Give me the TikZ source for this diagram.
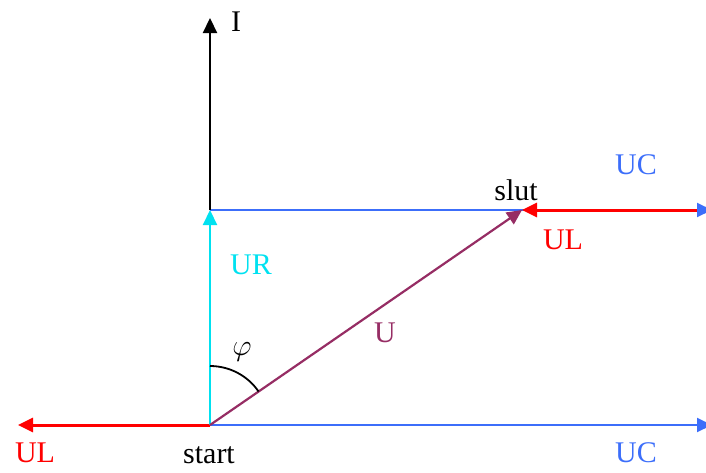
\RequirePackage{fix-cm}
\documentclass[tikz,border=0pt]{standalone}
\usepackage{fontspec}
\setmainfont{Liberation Serif}
\usetikzlibrary{arrows.meta,calc}
\definecolor{vblue}{RGB}{60,110,250}
\definecolor{vcyan}{RGB}{0,225,240}
\definecolor{vred}{RGB}{255,0,0}
\definecolor{vpurple}{RGB}{150,45,100}
\tikzset{
  vec/.style={line width=2.2pt,-{Triangle[length=15pt,width=14pt]}},
  lbl/.style={font=\fontsize{30}{34}\selectfont, inner sep=0pt},
}
\begin{document}
\begin{tikzpicture}[x=1pt,y=-1pt]
\clip (0,0) rectangle (706,472);
\coordinate (start) at (210,425);
\coordinate (slut) at (522,210);
\coordinate (Itop) at (210,18);
\coordinate (URtop) at (210,210);
\coordinate (rtop) at (712,210);
\coordinate (rtopred) at (697,210);
\coordinate (rbot) at (712,425);
\coordinate (lbot) at (18,425);
% blue lines
\draw[vec,vblue,line width=2pt] (URtop) -- (rtop);
\draw[vec,vblue,line width=2pt] (start) -- (rbot);
% red
\draw[vec,vred,line width=3pt] (rtopred) -- (slut);
\draw[vec,vred,line width=3pt] (start) -- (lbot);
% cyan UR
\draw[vec,vcyan] (start) -- (URtop);
% black I
\draw[vec,black] (URtop) -- (Itop);
% U
\draw[vec,vpurple] (start) -- (slut);
% angle
\draw[line width=1.8pt] ($(start)+(0,-59)$) arc[start angle=-90, end angle=-34.6, radius=59];
% labels
\node[lbl] (lI) at (236,22) {I};
\node[lbl,text=vblue] (lUC1) at (636,165) {UC};
\node[lbl] (lslut) at (516,190) {slut};
\node[lbl,text=vred] (lUL1) at (563,240) {UL};
\node[lbl,text=vcyan] (lUR) at (251,265) {UR};
\node[lbl,text=vpurple] (lU) at (385,333) {U};
\node[lbl] (lphi) at (242,352) {$\varphi$};
\node[lbl,text=vred] (lUL2) at (35,453) {UL};
\node[lbl] (lstart) at (209,455) {start};
\node[lbl,text=vblue] (lUC2) at (636,453) {UC};
\end{tikzpicture}
\end{document}
